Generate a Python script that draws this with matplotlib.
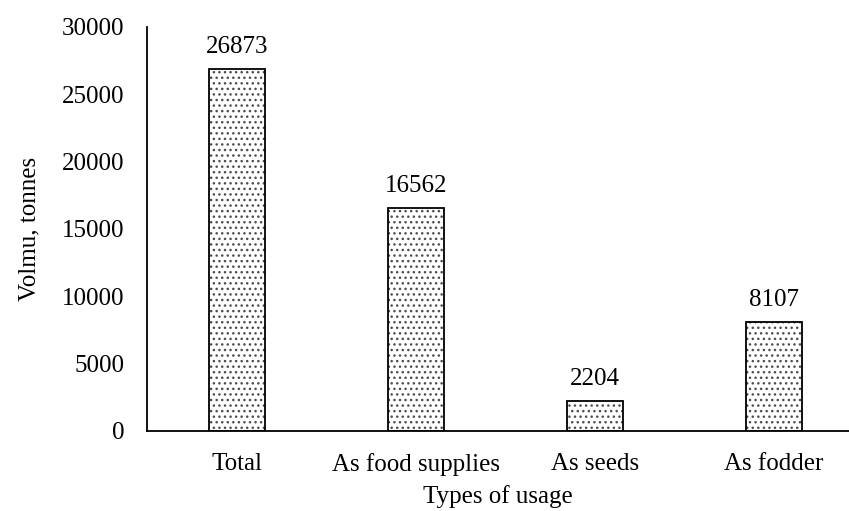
import matplotlib.pyplot as plt
import numpy as np

plt.rcParams['font.family'] = ['Liberation Serif', 'DejaVu Serif']
plt.rcParams['hatch.linewidth'] = 1.0
plt.rcParams['hatch.color'] = '#444444'

categories = ['Total', 'As food supplies', 'As seeds', 'As fodder']
volumes = [26873, 16562, 2204, 8107]

fig = plt.figure(figsize=(8.49, 5.11), dpi=100)
ax = fig.add_axes([0.1731, 0.1566, 0.8269, 0.7906])

x = np.arange(len(categories))
bars = ax.bar(x, volumes, width=0.31, color='white', edgecolor='black',
              linewidth=1.3, hatch='...')
for b in bars:
    b._hatch_color = (0.3, 0.3, 0.3, 1.0)

for b, v in zip(bars, volumes):
    ax.annotate(str(v), (b.get_x() + b.get_width() / 2, v),
                xytext=(0, 8), textcoords='offset points',
                ha='center', va='bottom', fontsize=18)

ax.set_xlim(-0.503, 3.42)
ax.set_ylim(0, 30000)
ax.set_yticks(range(0, 30001, 5000))
ax.set_xticks(x)
ax.set_xticklabels(categories)
ax.tick_params(axis='both', length=0, labelsize=18)
ax.tick_params(axis='y', pad=16)
ax.tick_params(axis='x', pad=16)

for s in ['top', 'right']:
    ax.spines[s].set_visible(False)
ax.spines['left'].set_linewidth(1.3)
ax.spines['bottom'].set_linewidth(1.3)

ax.set_xlabel('Types of usage', fontsize=18, labelpad=6)
ax.set_ylabel('Volmu, tonnes', fontsize=18, labelpad=16)

plt.savefig('out.png')
